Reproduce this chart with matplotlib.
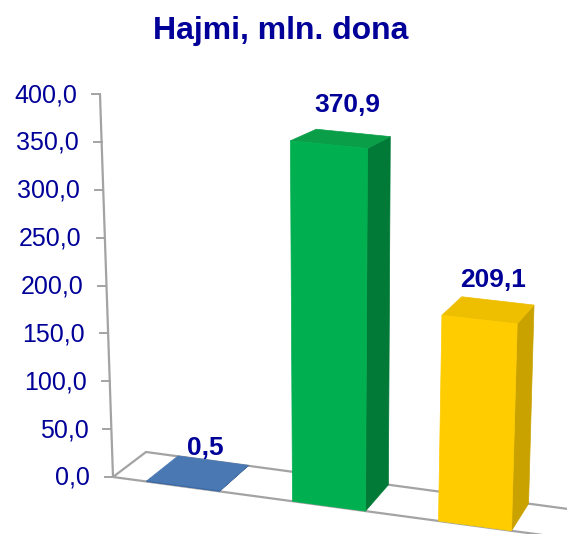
import numpy as np
import matplotlib
matplotlib.use("Agg")
import matplotlib.pyplot as plt
from matplotlib.transforms import Transform, Affine2D
from matplotlib.patches import Polygon

# ---------------- data ----------------
values = [0.5, 370.9, 209.1]
value_labels = ["0,5", "370,9", "209,1"]
tick_values = [0, 50, 100, 150, 200, 250, 300, 350, 400]
tick_labels = ["0,0", "50,0", "100,0", "150,0", "200,0", "250,0", "300,0", "350,0", "400,0"]
title = "Hajmi, mln. dona"

front_colors = ["#3E6BA6", "#00B050", "#FFCC00"]
side_colors = ["#2F5585", "#007A36", "#C9A200"]
top_colors = ["#4A78B2", "#0A9E48", "#EEBE00"]

plt.rcParams['font.family'] = ['Liberation Sans', 'DejaVu Sans']
NAVY = "#000099"
GRID = "#A3A3A3"

# ---------------- pseudo-3D projection (pixel space, y down) ----------------
X_CENTER0, X_STEP, X_LEFT = 183.0, 146.0, 113.0
Y_BASE, FLOOR_SLOPE = 477.0, 0.135
V_SCALE0, V_SCALE1 = 0.9575, 8e-5
LEAN, LEAN_CENTER = 1.5e-4, 330.0
K_DEPTH, VPX, VPY = 0.04, 938.0, -148.0


class FrontPlane(Transform):
    """Maps (category position, value) on the front plane to pixel coords."""
    input_dims = 2
    output_dims = 2

    def transform_non_affine(self, pts):
        pts = np.asarray(pts, dtype=float).reshape(-1, 2)
        c, v = pts[:, 0], pts[:, 1]
        x0 = X_CENTER0 + X_STEP * c
        y0 = Y_BASE + FLOOR_SLOPE * (x0 - X_LEFT)
        s = V_SCALE0 + V_SCALE1 * (x0 - X_LEFT)
        x = x0 + LEAN * v * (x0 - LEAN_CENTER)
        y = y0 - s * v
        return np.column_stack([x, y])


front = FrontPlane()
to_back = Affine2D().scale(1 - K_DEPTH).translate(K_DEPTH * VPX, K_DEPTH * VPY)

fig = plt.figure(figsize=(5.67, 5.34), dpi=100)
ax = fig.add_axes([0, 0, 1, 1])
ax.set_xlim(0, 567)
ax.set_ylim(534, 0)
ax.axis("off")

front_tr = front + ax.transData

positions = np.arange(len(values))
bar_w = 0.5
c_left = (X_LEFT - X_CENTER0) / X_STEP
c_right = 2.8


def fp(c, v):
    return front.transform(np.array([[c, v]]))[0]


def bp(c, v):
    return to_back.transform(front.transform(np.array([[c, v]])))[0]


# floor
floor = [fp(c_left, 0), fp(c_right, 0), bp(c_right, 0), bp(c_left, 0)]
ax.add_patch(Polygon(floor, closed=True, facecolor="white", edgecolor=GRID,
                     linewidth=1.6, zorder=1))

# value axis
ax.plot(*zip(fp(c_left, 0), fp(c_left, tick_values[-1])), color=GRID, lw=1.6,
        zorder=2, solid_capstyle="butt")
for t, lab in zip(tick_values, tick_labels):
    p = fp(c_left, t)
    ax.plot([p[0] - 8, p[0]], [p[1], p[1]], color=GRID, lw=1.4, zorder=2)
    ax.text(p[0] - 23, p[1] + 8, lab, ha="right", va="baseline",
            fontsize=18, color=NAVY)

# bars
for i, (c, v) in enumerate(zip(positions, values)):
    cl, cr = c - bar_w / 2, c + bar_w / 2
    side = [fp(cr, 0), fp(cr, v), bp(cr, v), bp(cr, 0)]
    top = [fp(cl, v), fp(cr, v), bp(cr, v), bp(cl, v)]
    ax.add_patch(Polygon(side, closed=True, facecolor=side_colors[i],
                         edgecolor=side_colors[i], lw=0.5, zorder=3))
    ax.add_patch(Polygon(top, closed=True, facecolor=top_colors[i],
                         edgecolor=top_colors[i], lw=0.5, zorder=3))

ax.bar(positions, values, width=bar_w, color=front_colors, edgecolor=front_colors,
       linewidth=0.5, transform=front_tr, zorder=4)
ax.set_xlim(0, 567)
ax.set_ylim(534, 0)

# value labels
for c, v, lab in zip(positions, values, value_labels):
    f = fp(c, v)
    b = bp(c, v)
    x = f[0] + 0.75 * (b[0] - f[0])
    y = b[1] - (6 + 0.04 * v)
    ax.text(x, y, lab, ha="center", va="baseline", fontsize=19,
            fontweight="bold", color=NAVY, zorder=5)

# title
ax.text(280.5, 39, title, ha="center", va="baseline", fontsize=23,
        fontweight="bold", color=NAVY)

fig.savefig("out.png", dpi=100)
